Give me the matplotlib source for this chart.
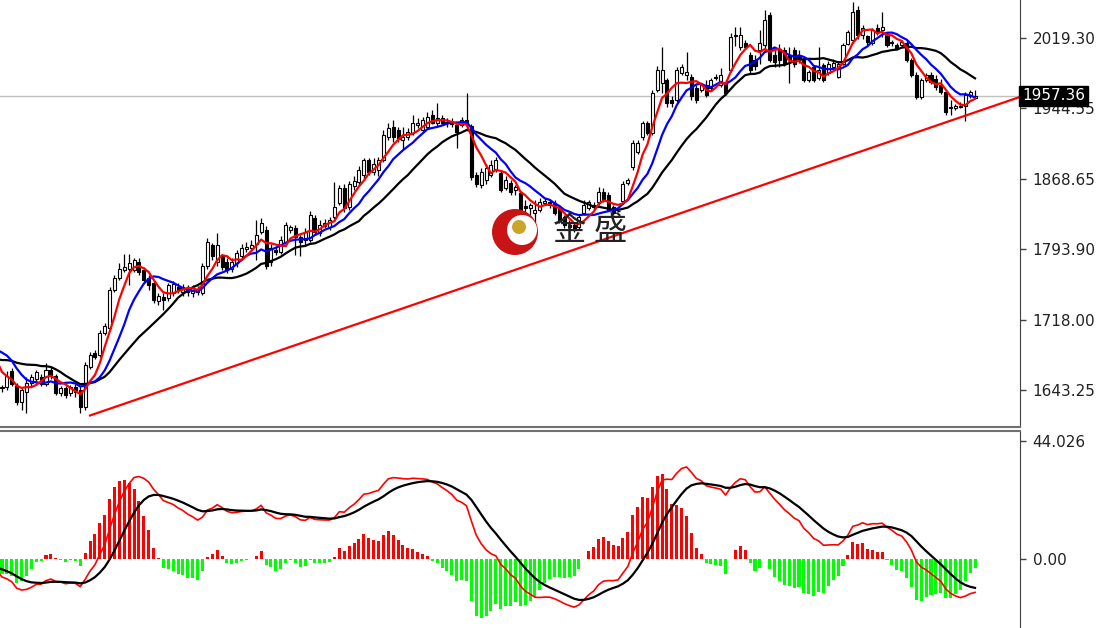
import numpy as np
import pandas as pd
import matplotlib
matplotlib.use("Agg")
import matplotlib.pyplot as plt
from matplotlib.patches import Circle
from matplotlib.transforms import IdentityTransform

# closes before the first visible bar (only used to warm up the indicators)
hist_close = [1722, 1718, 1724, 1716, 1712, 1715, 1708, 1704, 1709, 1700,
              1697, 1701, 1694, 1688, 1690, 1683, 1678, 1680, 1672, 1668,
              1664, 1660, 1666, 1670, 1665, 1668, 1662, 1667, 1672, 1668,
              1675, 1690, 1705, 1712, 1710, 1703, 1680, 1668, 1662, 1656]

opens = [1645, 1646, 1663, 1648, 1630, 1641, 1651, 1655, 1657, 1650,
         1665, 1658, 1640, 1645, 1640, 1646, 1643, 1625, 1668, 1683,
         1681, 1704, 1710, 1750, 1763, 1771, 1773, 1771, 1780, 1771,
         1763, 1758, 1738, 1743, 1742, 1747, 1753, 1748, 1751, 1747,
         1750, 1747, 1776, 1798, 1780, 1786, 1780, 1773, 1779, 1786,
         1794, 1795, 1799, 1812, 1814, 1780, 1793, 1791, 1800, 1814,
         1816, 1807, 1803, 1803, 1827, 1811, 1818, 1817, 1828, 1843,
         1859, 1839, 1861, 1865, 1873, 1889, 1876, 1878, 1889, 1914,
         1924, 1921, 1910, 1913, 1918, 1926, 1921, 1924, 1937, 1929,
         1934, 1928, 1930, 1926, 1926, 1932, 1925, 1873, 1862, 1868,
         1873, 1878, 1875, 1859, 1864, 1857, 1854, 1840, 1838, 1832,
         1836, 1843, 1844, 1843, 1839, 1828, 1820, 1820, 1817, 1832,
         1838, 1839, 1844, 1855, 1852, 1839, 1834, 1845, 1864, 1881,
         1897, 1914, 1928, 1918, 1964, 1971, 1974, 1953, 1953, 1982,
         1980, 1978, 1966, 1964, 1969, 1966, 1977, 1969, 1971, 1985,
         2021, 2010, 2014, 2001, 1996, 2006, 2012, 2044, 2001, 2006,
         2006, 2001, 2006, 2001, 1996, 1974, 1988, 1977, 1990, 1982,
         1988, 1978, 1992, 2013, 2017, 2049, 2023, 2021, 2014, 2030,
         2028, 2023, 2015, 2012, 2012, 2014, 1996, 1980, 1956, 1974,
         1980, 1975, 1969, 1962, 1945.5, 1945, 1946, 1947, 1957, 1955.5]

highs = [1649, 1663, 1667, 1651, 1645, 1657, 1660, 1665, 1660, 1672,
         1668, 1660, 1648, 1647, 1649, 1650, 1648, 1673, 1684, 1686,
         1707, 1715, 1753, 1766, 1779, 1788, 1788, 1784, 1784, 1775,
         1766, 1760, 1747, 1747, 1758, 1760, 1758, 1756, 1755, 1755,
         1754, 1779, 1806, 1800, 1811, 1789, 1784, 1784, 1793, 1799,
         1801, 1803, 1825, 1827, 1818, 1799, 1797, 1808, 1823, 1820,
         1819, 1809, 1816, 1835, 1830, 1825, 1826, 1828, 1865, 1862,
         1863, 1867, 1872, 1883, 1891, 1891, 1891, 1892, 1921, 1929,
         1932, 1924, 1924, 1923, 1937, 1934, 1935, 1940, 1942, 1950,
         1937, 1934, 1934, 1929, 1935, 1961, 1927, 1876, 1880, 1885,
         1889, 1892, 1878, 1872, 1868, 1862, 1857, 1846, 1843, 1846,
         1848, 1848, 1847, 1846, 1841, 1830, 1825, 1822, 1830, 1846,
         1846, 1844, 1860, 1859, 1855, 1841, 1836, 1866, 1870, 1910,
         1910, 1931, 1931, 1964, 1989, 2010, 1977, 1957, 1988, 1991,
         2004, 1981, 1969, 1971, 1974, 1977, 1981, 1987, 1974, 2025,
         2031, 2031, 2017, 2004, 2001, 2028, 2049, 2047, 2006, 2013,
         2010, 2010, 2010, 2006, 1998, 1985, 1990, 2010, 1993, 1995,
         1997, 1995, 2014, 2028, 2058, 2054, 2033, 2023, 2030, 2034,
         2047, 2025, 2017, 2014, 2017, 2017, 1998, 1983, 1977, 1982,
         1983, 1980, 1975, 1964, 1953, 1949, 1951, 1962, 1964, 1964]

lows = [1641, 1643, 1647, 1627, 1622, 1619, 1648, 1651, 1647, 1648,
        1655, 1638, 1637, 1635, 1637, 1636, 1619, 1622, 1666, 1676,
        1679, 1702, 1707, 1748, 1761, 1769, 1755, 1769, 1766, 1759,
        1750, 1736, 1734, 1729, 1738, 1744, 1747, 1744, 1744, 1743,
        1745, 1745, 1773, 1782, 1776, 1771, 1768, 1769, 1775, 1782,
        1791, 1793, 1782, 1810, 1773, 1776, 1787, 1789, 1797, 1811,
        1787, 1786, 1798, 1801, 1809, 1808, 1816, 1814, 1826, 1841,
        1833, 1836, 1857, 1862, 1868, 1873, 1873, 1872, 1887, 1910,
        1908, 1908, 1900, 1910, 1916, 1923, 1919, 1922, 1927, 1925,
        1926, 1924, 1924, 1902, 1924, 1921, 1868, 1860, 1859, 1863,
        1871, 1876, 1855, 1857, 1852, 1852, 1833, 1828, 1830, 1817,
        1833, 1841, 1838, 1830, 1822, 1816, 1814, 1812, 1815, 1830,
        1836, 1836, 1841, 1844, 1834, 1830, 1833, 1842, 1862, 1878,
        1895, 1910, 1916, 1916, 1962, 1961, 1946, 1946, 1951, 1980,
        1974, 1953, 1950, 1962, 1956, 1963, 1974, 1967, 1958, 1983,
        2011, 2006, 2008, 1982, 1985, 1992, 2006, 1994, 1988, 1988,
        1989, 1971, 1988, 1993, 1972, 1972, 1972, 1974, 1972, 1980,
        1986, 1977, 1990, 2012, 2014, 2018, 2018, 2012, 2012, 2023,
        2020, 2010, 2011, 2007, 2010, 1994, 1978, 1954, 1954, 1972,
        1970, 1964, 1960, 1937, 1937, 1942, 1944, 1931, 1955, 1955]

closes = [1646, 1658, 1650, 1630, 1643, 1651, 1657, 1662, 1650, 1665,
          1658, 1640, 1645, 1638, 1646, 1641, 1625, 1670, 1681, 1679,
          1704, 1712, 1750, 1763, 1773, 1775, 1779, 1782, 1769, 1761,
          1755, 1739, 1744, 1739, 1755, 1756, 1750, 1753, 1748, 1752,
          1748, 1776, 1801, 1786, 1798, 1775, 1771, 1780, 1790, 1795,
          1796, 1798, 1809, 1822, 1776, 1795, 1791, 1804, 1819, 1817,
          1807, 1801, 1812, 1830, 1812, 1820, 1822, 1825, 1839, 1859,
          1838, 1863, 1866, 1878, 1889, 1876, 1885, 1889, 1916, 1923,
          1913, 1911, 1914, 1919, 1928, 1928, 1932, 1935, 1929, 1934,
          1928, 1930, 1927, 1919, 1932, 1927, 1871, 1863, 1876, 1880,
          1884, 1889, 1857, 1868, 1855, 1860, 1836, 1838, 1841, 1836,
          1844, 1845, 1841, 1832, 1825, 1819, 1817, 1814, 1828, 1841,
          1844, 1841, 1855, 1847, 1836, 1832, 1835, 1863, 1868, 1907,
          1907, 1928, 1918, 1961, 1985, 1985, 1950, 1950, 1985, 1988,
          1983, 1957, 1953, 1969, 1958, 1974, 1978, 1980, 1961, 2020,
          2022, 2023, 2010, 1985, 1989, 2014, 2039, 1996, 1994, 1996,
          1992, 1996, 1992, 1998, 1974, 1983, 1974, 1985, 1974, 1992,
          1993, 1992, 2012, 2026, 2047, 2022, 2030, 2015, 2028, 2026,
          2031, 2012, 2014, 2009, 2015, 1996, 1980, 1956, 1974, 1980,
          1972, 1967, 1962, 1940, 1945, 1947, 1947, 1958, 1962, 1957.36]

price_ticks = [2019.30, 1944.55, 1868.65, 1793.90, 1718.00, 1643.25]
macd_ticks = [44.026, 0.00]
last_price = 1957.36
trend_start = (18, 1616)   # (bar, price)
trend_end = (208, 1956)

# indicators
n_hist = len(hist_close)
c_all = pd.Series(hist_close + closes, dtype=float)
x_all = np.arange(len(c_all)) - n_hist
ma_fast = c_all.rolling(5).mean()
ma_mid = c_all.rolling(10).mean()
ma_slow = c_all.rolling(20).mean()
dif = c_all.ewm(span=12, adjust=False).mean() - c_all.ewm(span=26, adjust=False).mean()
dea = dif.ewm(span=9, adjust=False).mean()
osc = 2 * (dif - dea)

o = np.array(opens)
h = np.array(highs)
l = np.array(lows)
c = np.array(closes)
x = np.arange(len(c))
up = c >= o

W, H = 1097, 628
fig = plt.figure(figsize=(W / 100, H / 100), dpi=100)
ax = fig.add_axes([0, 1 - 427 / H, 1020 / W, 427 / H])
ax2 = fig.add_axes([0, 0, 1020 / W, 197 / H])

# candles
ax.vlines(x, l, h, color="black", lw=0.9, zorder=2)
body_lo = np.minimum(o, c)
body_h = np.maximum(np.abs(c - o), 0.8)
ax.bar(x, body_h, bottom=body_lo, width=0.62,
       color=np.where(up, "white", "black"), edgecolor="black",
       linewidth=0.8, zorder=3)

ax.plot(x_all, ma_slow, color="black", lw=1.6, zorder=4)
ax.plot(x_all, ma_mid, color="#0000ff", lw=1.6, zorder=5)
ax.plot(x_all, ma_fast, color="#ff0000", lw=1.6, zorder=6)

ax.plot([trend_start[0], trend_end[0]], [trend_start[1], trend_end[1]],
        color="#ff0000", lw=1.6, zorder=6)
ax.axhline(last_price, color="#c0c0c0", lw=1, zorder=1)

ax.set_xlim(-0.41, 208.2)
ax.set_ylim(1603.7, 2059.9)
ax.set_xticks([])
ax.yaxis.tick_right()
ax.set_yticks(price_ticks)
ax.set_yticklabels([f"{v:.2f}" for v in price_ticks])
ax.tick_params(axis="y", direction="out", length=4, width=1, color="#404040",
               labelsize=11, pad=5, labelcolor="#222222")
for s in ["left", "top"]:
    ax.spines[s].set_visible(False)
ax.spines["right"].set_color("#404040")
ax.spines["bottom"].set_color("#707070")
ax.spines["bottom"].set_linewidth(1.5)

ax.text(1.002, last_price, f"{last_price:.2f}", transform=ax.get_yaxis_transform(),
        ha="left", va="center", color="white", fontsize=11, zorder=10,
        bbox=dict(boxstyle="square,pad=0.18", fc="black", ec="black"), clip_on=False)

# MACD panel
ax2.bar(x_all, osc, width=0.62, color=np.where(osc >= 0, "#ff0000", "#00ff00"), zorder=2)
ax2.plot(x_all, dif, color="#ff0000", lw=1.2, zorder=3)
ax2.plot(x_all, dea, color="black", lw=1.6, zorder=4)
ax2.set_xlim(-0.41, 208.2)
ax2.set_ylim(-25.7, 47.8)
ax2.set_xticks([])
ax2.yaxis.tick_right()
ax2.set_yticks(macd_ticks)
ax2.set_yticklabels(["44.026", "0.00"])
ax2.tick_params(axis="y", direction="out", length=4, width=1, color="#404040",
                labelsize=11, pad=5, labelcolor="#222222")
for s in ["left", "bottom"]:
    ax2.spines[s].set_visible(False)
ax2.spines["right"].set_color("#404040")
ax2.spines["top"].set_color("#707070")
ax2.spines["top"].set_linewidth(1.5)

# watermark logo (pixel positions, y measured from the bottom)
px = IdentityTransform()
fig.add_artist(Circle((515, H - 232), 23, transform=px, fc="#c81414", ec="none", zorder=20))
fig.add_artist(Circle((522, H - 230), 15, transform=px, fc="white", ec="none", zorder=21))
fig.add_artist(Circle((519, H - 227), 7, transform=px, fc="#c9a52a", ec="none", zorder=22))
fig.text(590 / W, 1 - 231 / H, "金 盛", fontsize=24, color="#222222",
         family=["Noto Sans CJK SC", "DejaVu Sans"], ha="center", va="center", zorder=23)

fig.savefig("out.png", dpi=100)
